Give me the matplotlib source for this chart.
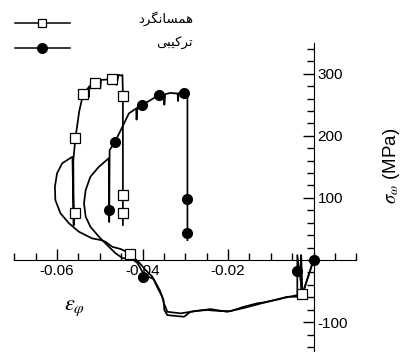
import numpy as np
import matplotlib
matplotlib.use('Agg')
import matplotlib.pyplot as plt
from matplotlib.lines import Line2D

plt.rcParams['font.family'] = ['Liberation Sans', 'DejaVu Sans']
plt.rcParams['mathtext.fontset'] = 'stix'

# legend labels (Persian)
label_iso = 'همسانگرد'
label_comb = 'ترکیبی'

# isotropic hardening curve (hoop strain, hoop stress MPa)
iso_x = [0.0, -0.0026, -0.0029, -0.0029, -0.00615, -0.0085, -0.0116, -0.0132, -0.0163,
         -0.0194, -0.0218, -0.0249, -0.0272, -0.0311, -0.0342, -0.0350, -0.0354, -0.0366,
         -0.0377, -0.0393, -0.0409, -0.0430, -0.0436, -0.0451, -0.0471, -0.0487, -0.0498,
         -0.0518, -0.0549, -0.0572, -0.0592, -0.0604, -0.0605, -0.0600, -0.0588, -0.0564,
         -0.0561, -0.0562, -0.0557, -0.0548, -0.0539, -0.0526, -0.0526, -0.0524, -0.0512,
         -0.0500, -0.0499, -0.0497, -0.0484, -0.0471, -0.0462, -0.0461, -0.0456, -0.0450,
         -0.0447, -0.0446, -0.0446, -0.0446, -0.0446]
iso_y = [0.0, -54.8, 8.0, -59.0, -59.1, -63.3, -68.1, -69.7, -75.2,
         -82.1, -82.1, -80.5, -81.6, -85.8, -83.3, -69.7, -59.1, -43.0,
         -26.9, -16.0, -3.2, 9.2, 12.9, 17.7, 21.4, 29.5, 32.2,
         34.9, 45.6, 59.1, 75.2, 96.6, 118.0, 139.6, 155.7, 166.3,
         56.0, 160.0, 196.5, 240.0, 266.8, 278.0, 262.0, 280.0, 285.5,
         289.0, 276.0, 290.0, 290.5, 291.5, 296.0, 282.0, 298.0, 297.0,
         298.0, 264.0, 104.7, 75.2, 56.4]

iso_mx = [-0.0026, -0.0430, -0.0558, -0.0557, -0.0539, -0.0512, -0.0471, -0.0446, -0.0446, -0.0446]
iso_my = [-54.8, 9.2, 76.2, 196.5, 266.8, 285.5, 291.5, 264.0, 104.7, 75.2]

# combined hardening curve
comb_x = [0.0, -0.0026, -0.0038, -0.0038, -0.0070, -0.0117, -0.0164, -0.0202, -0.0241,
          -0.0288, -0.0303, -0.0342, -0.0349, -0.0351, -0.0360, -0.0374, -0.0396, -0.0412,
          -0.0424, -0.0447, -0.0463, -0.0483, -0.0502, -0.0522, -0.0533, -0.0537, -0.0533,
          -0.0522, -0.0502, -0.0479, -0.0478, -0.0477, -0.0465, -0.0447, -0.0432, -0.0415,
          -0.0414, -0.0412, -0.0401, -0.0380, -0.0362, -0.0350, -0.0349, -0.0347, -0.0335,
          -0.0318, -0.0317, -0.0315, -0.0303, -0.0295, -0.0295, -0.0295, -0.0295]
comb_y = [0.0, -55.0, 8.0, -56.4, -61.2, -68.8, -77.3, -83.3, -78.9,
          -83.3, -91.3, -88.6, -80.5, -64.4, -48.3, -30.6, -24.0, -4.8,
          1.6, 3.2, 10.8, 24.2, 37.5, 53.6, 69.7, 91.3, 112.7,
          134.1, 150.2, 163.8, 61.2, 177.0, 189.5, 214.6, 236.0, 244.0,
          226.0, 246.0, 249.6, 258.0, 265.7, 266.0, 250.0, 267.0, 269.0,
          268.0, 256.0, 269.0, 268.4, 269.0, 98.2, 43.0, 32.0]

comb_mx = [0.0, -0.0038, -0.0398, -0.0478, -0.0465, -0.0401, -0.0362, -0.0303, -0.0295, -0.0295]
comb_my = [0.0, -17.2, -26.9, 81.3, 189.5, 249.6, 265.7, 268.4, 98.2, 43.0]

W, H = 404, 352
fig = plt.figure(figsize=(W / 100, H / 100), dpi=100)
ax = fig.add_axes([14.3 / W, 0.0, 342 / W, (H - 42.6) / H])
ax.set_xlim(-0.07, 0.01)
ax.set_ylim(-148, 350)

ax.plot(iso_x, iso_y, color='black', lw=1.25)
ax.plot(comb_x, comb_y, color='black', lw=1.25)
ax.plot(iso_mx, iso_my, ls='none', marker='s', ms=6.5, mfc='white', mec='black', mew=0.9,
        zorder=4, clip_on=False)
ax.plot(comb_mx, comb_my, ls='none', marker='o', ms=7, mfc='black', mec='black',
        zorder=4, clip_on=False)

# axes crossing at the origin
for side in ['top', 'left']:
    ax.spines[side].set_visible(False)
ax.spines['bottom'].set_position(('data', 0))
ax.spines['right'].set_position(('data', 0))
ax.yaxis.tick_right()
ax.patch.set_alpha(0)

ax.set_xticks([-0.06, -0.04, -0.02], ['-0.06', '-0.04', '-0.02'])
ax.set_xticks(np.arange(-0.07, 0.0101, 0.005), minor=True)
ax.set_yticks([-100, 100, 200, 300], ['-100', '100', '200', '300'])
ax.set_yticks(np.arange(-140, 341, 20), minor=True)
ax.tick_params(axis='both', which='major', direction='in', length=8, width=1, labelsize=11)
ax.tick_params(axis='both', which='minor', direction='in', length=5, width=1)
ax.tick_params(axis='x', which='major', pad=3)
ax.tick_params(axis='y', which='major', pad=3)

fig.text(392 / W, 1 - 166 / H, r'$\sigma_\omega$ (MPa)', rotation=90, fontsize=13.5,
         ha='center', va='center')
fig.text(75 / W, 1 - 308 / H, r'$\varepsilon_\varphi$', fontsize=16, ha='center', va='center')


# simple Persian shaping (matplotlib draws no joined forms by itself)
FORMS = {
    'ه': ('\uFEE9', '\uFEEA', '\uFEEB', '\uFEEC'),
    'م': ('\uFEE1', '\uFEE2', '\uFEE3', '\uFEE4'),
    'س': ('\uFEB1', '\uFEB2', '\uFEB3', '\uFEB4'),
    'ا': ('\uFE8D', '\uFE8E', None, None),
    'ن': ('\uFEE5', '\uFEE6', '\uFEE7', '\uFEE8'),
    'گ': ('\uFB92', '\uFB93', '\uFB94', '\uFB95'),
    'ر': ('\uFEAD', '\uFEAE', None, None),
    'د': ('\uFEA9', '\uFEAA', None, None),
    'ت': ('\uFE95', '\uFE96', '\uFE97', '\uFE98'),
    'ک': ('\uFB8E', '\uFB8F', '\uFB90', '\uFB91'),
    'ی': ('\uFBFC', '\uFBFD', '\uFBFE', '\uFBFF'),
    'ب': ('\uFE8F', '\uFE90', '\uFE91', '\uFE92'),
}


def shape(word):
    out = []
    for i, ch in enumerate(word):
        iso, fin, ini, med = FORMS[ch]
        prev_joins = i > 0 and FORMS[word[i - 1]][2] is not None
        next_joins = ini is not None and i < len(word) - 1
        if prev_joins and next_joins:
            out.append(med)
        elif prev_joins:
            out.append(fin)
        elif next_joins:
            out.append(ini)
        else:
            out.append(iso)
    return ''.join(reversed(out))


# legend, drawn by hand (labels right-aligned)
for ypix, mk, fc, lab in [(23.3, 's', 'white', label_iso), (48.3, 'o', 'black', label_comb)]:
    fy = 1 - ypix / H
    fig.add_artist(Line2D([15 / W, 70 / W], [fy, fy], transform=fig.transFigure,
                          color='black', lw=1.1))
    fig.add_artist(Line2D([42.3 / W], [fy], transform=fig.transFigure, ls='none',
                          marker=mk, ms=6 if mk == 's' else 7, mfc=fc, mec='black', mew=0.9))
    fig.text(193 / W, 1 - (ypix - 5) / H, shape(lab), ha='right', va='center',
             fontsize=9.5, family=['DejaVu Sans'])

fig.savefig('out.png', dpi=100)
